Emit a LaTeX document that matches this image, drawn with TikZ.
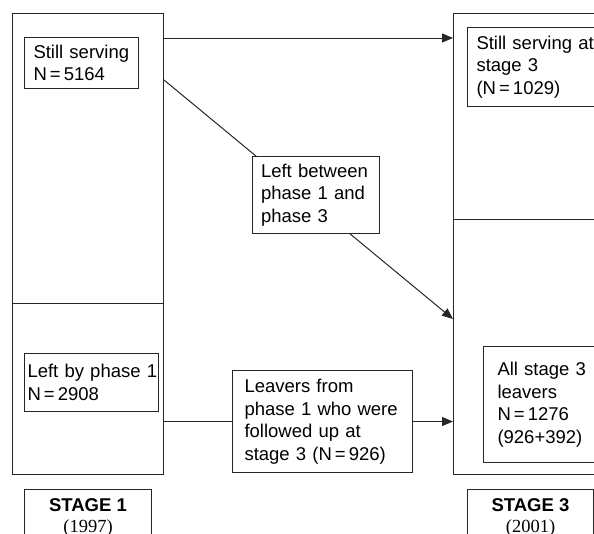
\documentclass[tikz,border=0pt]{standalone}
\usepackage{fontspec}
\setmainfont{Liberation Sans}
\newfontfamily\yearfont{Liberation Serif}
\usetikzlibrary{arrows.meta}
\pgfdeclarelayer{bg}
\pgfsetlayers{bg,main}
\begin{document}
\begin{tikzpicture}[x=1pt,y=-1pt,
  lw/.style={line width=1pt, draw=black!85},
  frame/.style={lw, anchor=north west, inner sep=0pt},
  box/.style={lw, fill=white, anchor=north west, align=left, inner ysep=0pt,
    font=\fontsize{18.5}{22.5}\selectfont},
  stagetext/.style={anchor=north, inner sep=0pt, align=center,
    font=\fontsize{18.5}{21}\selectfont},
  arr/.style={lw, -{Triangle[length=11pt,width=9pt]}}]
\clip (0,0) rectangle (594,533);
% big stage frames
\node[frame, minimum width=151pt, minimum height=461pt] (L) at (12,13) {};
\node[frame, minimum width=170pt, minimum height=461pt] (R) at (453,13) {};
\draw[lw] ([yshift=-290pt]L.north west) -- ([yshift=-290pt]L.north east);
\draw[lw] ([yshift=-206pt]R.north west) -- ([yshift=-206pt]R.north east);
% inner boxes
\node[box, text width=96pt, inner xsep=9pt, minimum height=51pt] (still1) at (24,37)
  {Still serving\\N\,=\,5164};
\node[box, text width=132pt, inner xsep=1pt, minimum height=58pt] (left1) at (24,353)
  {\hspace*{2pt}Left by phase 1\\\hspace*{2pt}N\,=\,2908};
\node[box, text width=120pt, inner xsep=9pt, minimum height=79pt] (still3) at (467,27)
  {Still serving at\\stage 3\\(N\,=\,1029)};
\node[box, text width=110pt, inner xsep=8.5pt, minimum height=77pt] (between) at (252,156)
  {Left between\\phase 1 and\\phase 3};
\node[box, text width=156pt, inner xsep=12pt, minimum height=102pt] (leavers) at (232,370)
  {Leavers from\\phase 1 who were\\followed up at\\stage 3 (N\,=\,926)};
\node[box, text width=120pt, inner xsep=14pt, minimum height=116pt] (all3) at (483,346)
  {All stage 3\\leavers\\N\,=\,1276\\(926+392)};
% stage labels
\node[frame, minimum width=127pt, minimum height=80pt] (s1box) at (24,489) {};
\node[frame, minimum width=126pt, minimum height=80pt] (s3box) at (467,489) {};
\node[stagetext] (s1) at ([yshift=-9pt]s1box.north) {\textbf{STAGE 1}\\{\yearfont (1997)}};
\node[stagetext] (s3) at ([yshift=-9pt]s3box.north) {\textbf{STAGE 3}\\{\yearfont (2001)}};
% connectors
\begin{pgfonlayer}{bg}
\draw[arr] ([yshift=-25pt]L.north east) -- ([yshift=-25pt]R.north west);
\draw[arr] ([yshift=-67pt]L.north east) -- ([yshift=-306pt]R.north west);
\draw[lw] (L.east |- leavers.west) -- (leavers.west);
\draw[arr] (leavers.east) -- (R.west |- leavers.east);
\end{pgfonlayer}
\end{tikzpicture}
\end{document}
